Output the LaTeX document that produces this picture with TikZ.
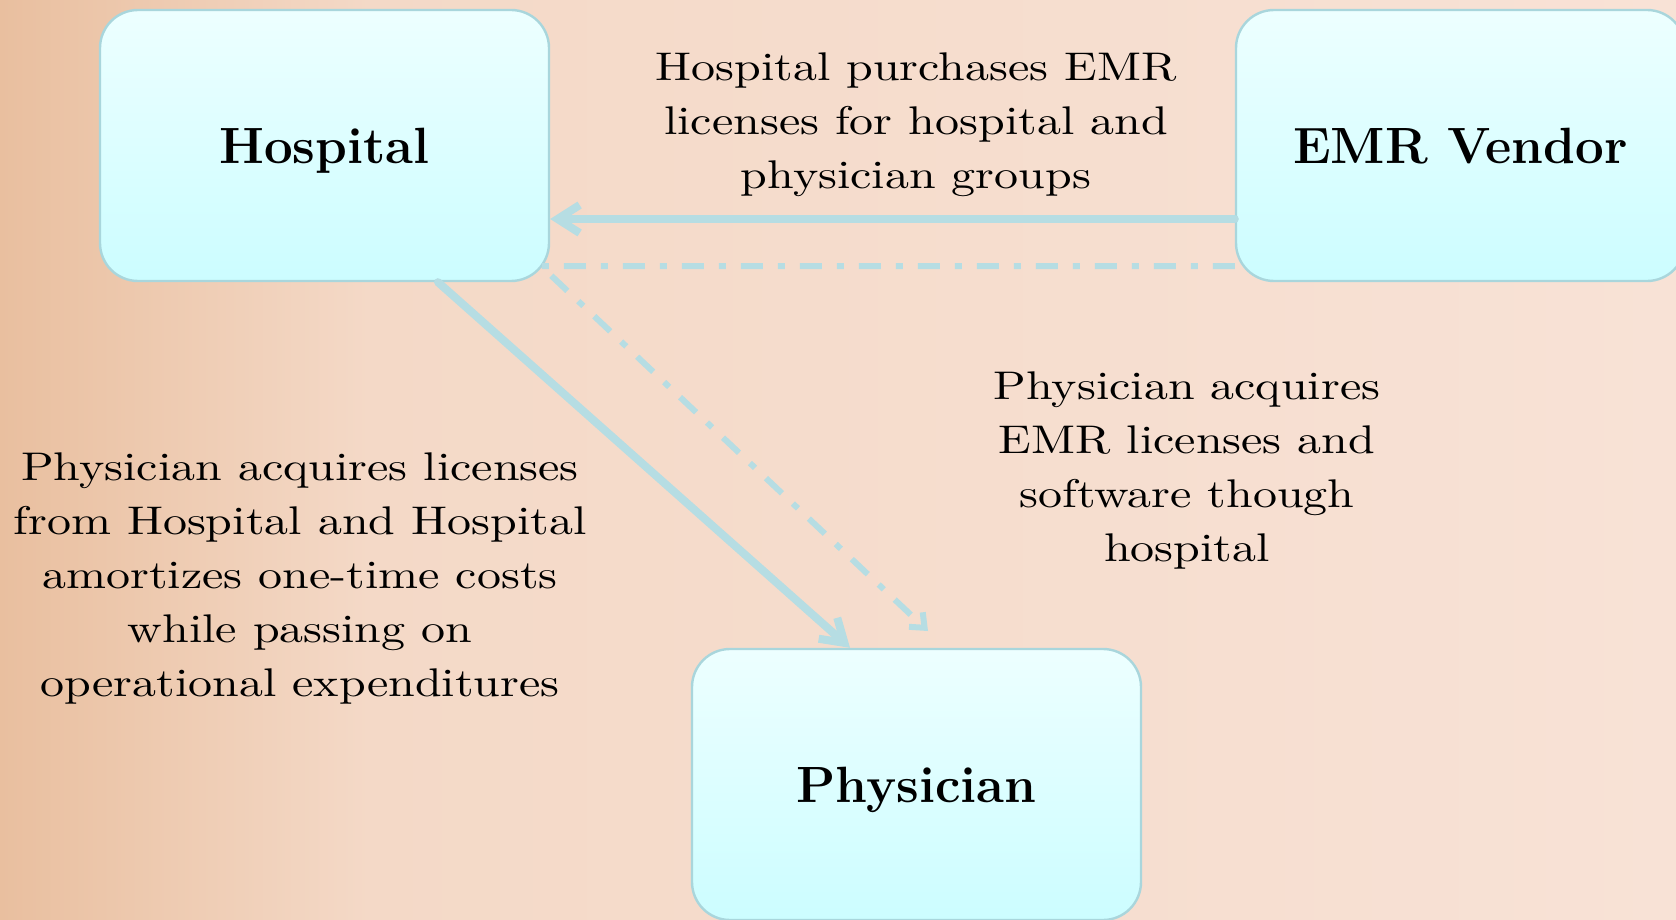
\documentclass[tikz,border=0pt]{standalone}
\usepackage{fontspec}
\usepackage{tikz}
\usetikzlibrary{arrows.meta}
\newfontfamily\bodyfont{lmroman10-regular.otf}[FakeStretch=1.2]
\definecolor{bgleft}{HTML}{E9BF9F}
\definecolor{bgmid}{HTML}{F4D9C7}
\definecolor{bgright}{HTML}{F8E2D6}
\definecolor{boxtop}{HTML}{EDFFFF}
\definecolor{boxbot}{HTML}{CCFDFF}
\definecolor{boxline}{HTML}{A9D6DC}
\definecolor{arrowblue}{HTML}{B6DDE3}
% only 25bp..75bp of the shading lands on the path
\pgfdeclarehorizontalshading{paper}{100bp}{color(0bp)=(bgleft); color(25bp)=(bgleft); color(36bp)=(bgmid); color(75bp)=(bgright); color(100bp)=(bgright)}

\begin{document}
\begin{tikzpicture}[x=0.5pt,y=-0.5pt]
\tikzset{
  box/.style={rectangle,rounded corners=19pt,draw=boxline,line width=1.2pt,
    top color=boxtop,bottom color=boxbot,
    minimum width=224.5pt,minimum height=135.5pt,
    text height=24pt,text depth=6pt,
    font=\fontsize{25.5}{30}\selectfont\bfseries},
  note/.style={align=center,inner sep=0pt,font=\bodyfont\fontsize{20}{27}\selectfont},
  flow/.style={draw=arrowblue,line width=4pt,line cap=round,
    -{Straight Barb[length=11pt,width=14pt]}},
  viaflow/.style={draw=arrowblue,line width=3pt,
    dash pattern=on 11pt off 7.5pt on 3.5pt off 7.5pt,
    -{Straight Barb[length=6pt,width=10pt]}}
}
\useasboundingbox (0,0) rectangle (1676,920);
% paper
\shade[shading=paper] (0,0) rectangle (1676,920);

% parties
\node[box] (hosp) at (324.5,145.5) {Hospital};
\node[box] (vend) at (1460.5,145.5) {EMR Vendor};
\node[box] (phys) at (916.5,784.5) {Physician};

% descriptions
\node[note] (purch) at (916,125) {Hospital purchases EMR\\licenses for hospital and\\physician groups};
\node[note] (acq) at (300,578) {Physician acquires licenses\\from Hospital and Hospital\\amortizes one-time costs\\while passing on\\operational expenditures};
\node[note] (soft) at (1187,470) {Physician acquires\\EMR licenses and\\software though\\hospital};

% licence flows
\coordinate (hbend) at (541,266);
\coordinate (pend) at (928,631);
\draw[flow] ([yshift=-36.75pt]vend.west) -- ([yshift=-36.75pt]hosp.east);
\draw[viaflow] ([yshift=-60.25pt]vend.west) -- (hbend) -- (pend);
\draw[flow] ([xshift=56.75pt]hosp.south) -- ([xshift=-33.25pt]phys.north);
\end{tikzpicture}
\end{document}
